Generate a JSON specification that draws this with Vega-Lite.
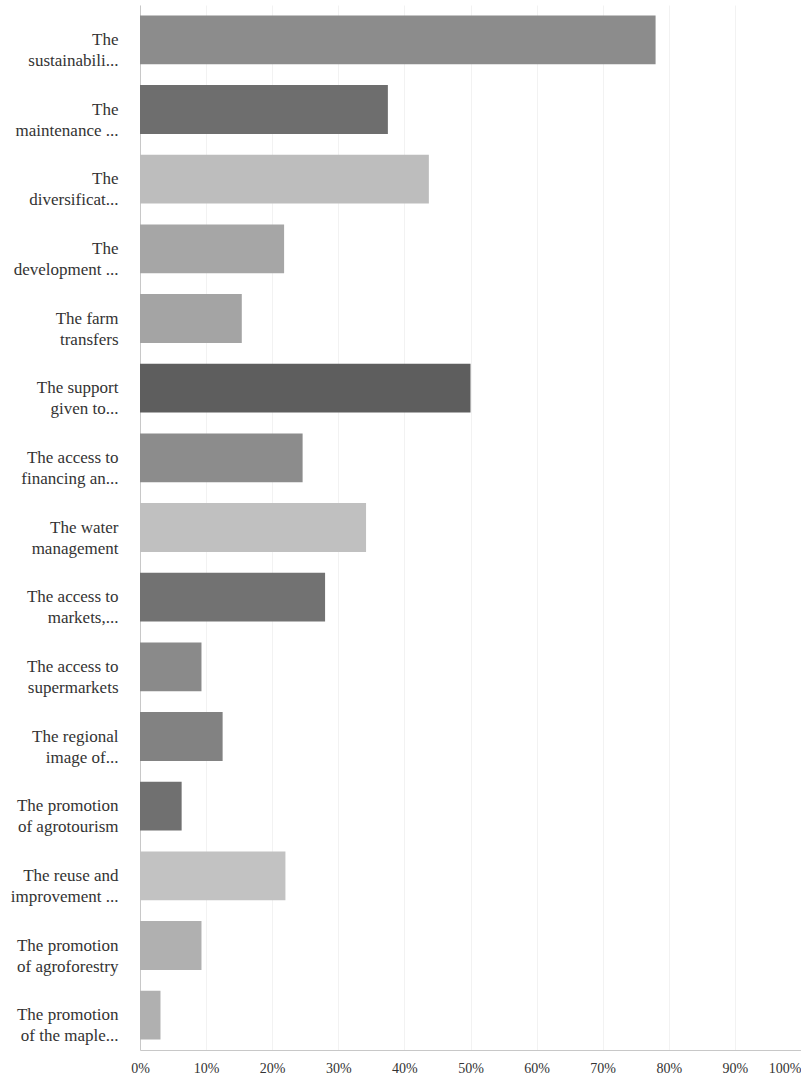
{
  "$schema": "https://vega.github.io/schema/vega-lite/v6.json",
  "width": 661,
  "height": 1045,
  "autosize": {"type": "none"},
  "padding": {"left": 140, "top": 5, "right": 0, "bottom": 33},
  "background": "white",
  "config": {"view": {"stroke": null}},
  "data": {
    "values": [
      {"label": "The|sustainabili...", "share": 0.78},
      {"label": "The|maintenance ...", "share": 0.375},
      {"label": "The|diversificat...", "share": 0.437},
      {"label": "The|development ...", "share": 0.218},
      {"label": "The farm|transfers", "share": 0.154},
      {"label": "The support|given to...", "share": 0.5},
      {"label": "The access to|financing an...", "share": 0.246},
      {"label": "The water|management", "share": 0.342},
      {"label": "The access to|markets,...", "share": 0.28},
      {"label": "The access to|supermarkets", "share": 0.093},
      {"label": "The regional|image of...", "share": 0.125},
      {"label": "The promotion|of agrotourism", "share": 0.063},
      {"label": "The reuse and|improvement ...", "share": 0.22},
      {"label": "The promotion|of agroforestry", "share": 0.093},
      {"label": "The promotion|of the maple...", "share": 0.031}
    ]
  },
  "mark": {"type": "bar"},
  "encoding": {
    "y": {
      "field": "label",
      "type": "nominal",
      "sort": null,
      "scale": {"paddingInner": 0.3, "paddingOuter": 0.15},
      "axis": {
        "title": null,
        "ticks": false,
        "labelExpr": "split(datum.label, '|')",
        "labelFont": "'Liberation Serif', 'DejaVu Serif', serif",
        "labelFontSize": 17,
        "labelLineHeight": 21,
        "labelColor": "#333333",
        "labelPadding": 22,
        "labelLimit": 200,
        "domainColor": "#c8c8c8",
        "grid": false
      }
    },
    "x": {
      "field": "share",
      "type": "quantitative",
      "scale": {"domain": [0, 1], "nice": false},
      "axis": {
        "title": null,
        "values": [0, 0.1, 0.2, 0.3, 0.4, 0.5, 0.6, 0.7, 0.8, 0.9, 1],
        "format": ".0%",
        "ticks": false,
        "labelFont": "'Liberation Serif', 'DejaVu Serif', serif",
        "labelFontSize": 14,
        "labelColor": "#333333",
        "labelPadding": 11,
        "labelAlign": {"condition": {"test": "datum.value === 1", "value": "right"}, "value": "center"},
        "domainColor": "#c8c8c8",
        "grid": true,
        "gridColor": "#f2f2f2"
      }
    },
    "color": {
      "field": "label",
      "type": "nominal",
      "legend": null,
      "scale": {
        "domain": [
          "The|sustainabili...",
          "The|maintenance ...",
          "The|diversificat...",
          "The|development ...",
          "The farm|transfers",
          "The support|given to...",
          "The access to|financing an...",
          "The water|management",
          "The access to|markets,...",
          "The access to|supermarkets",
          "The regional|image of...",
          "The promotion|of agrotourism",
          "The reuse and|improvement ...",
          "The promotion|of agroforestry",
          "The promotion|of the maple..."
        ],
        "range": [
          "#8c8c8c", "#6e6e6e", "#bdbdbd", "#a6a6a6", "#a4a4a4",
          "#5e5e5e", "#8c8c8c", "#c0c0c0", "#727272", "#8a8a8a",
          "#828282", "#707070", "#c2c2c2", "#b0b0b0", "#b0b0b0"
        ]
      }
    }
  }
}
